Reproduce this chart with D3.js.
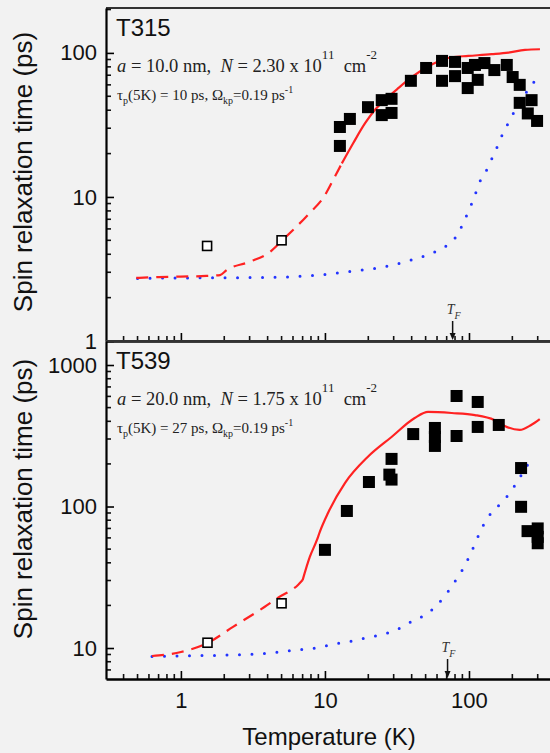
<!DOCTYPE html>
<html>
<head>
<meta charset="utf-8">
<script src="https://cdnjs.cloudflare.com/ajax/libs/d3/7.8.5/d3.min.js"></script>
<style>
  body { margin: 0; background: #f2f2f2; }
  svg { display: block; }
  text { white-space: pre; }
</style>
</head>
<body>
<div id="chart"></div>
<script>

// x axis (temperature, K)
var xMajor = [1, 10, 100]
var xMinor = [0.4, 0.5, 0.6, 0.7, 0.8, 0.9, 2, 3, 4, 5, 6, 7, 8, 9, 20, 30, 40, 50, 60, 70, 80, 90, 200, 300]

// ---- T315 ----
var t315Major = [1, 10, 100]
var t315Minor = [2, 3, 4, 5, 6, 7, 8, 9, 20, 30, 40, 50, 60, 70, 80, 90, 200]
var t315Tf = 77

var t315Measured = [
  [12.7, 30.6], [12.7, 22.6], [14.9, 34.8], [19.9, 42], [24.8, 47], [29, 48],
  [24.8, 37], [29, 38.3], [39.5, 64], [50.4, 78.6], [65, 88], [65, 64],
  [80, 86.6], [80, 69], [98, 78.6], [98, 57], [110, 82.5], [115, 65],
  [128, 85], [150, 76], [183, 82.5], [201, 68], [225, 60], [225, 45],
  [272, 47], [256, 38], [297, 33.7]
]
var t315Open = [[1.52, 4.57], [5.0, 5.0]]

var t315FitDashed = [
  [0.49, 2.74], [0.7, 2.78], [1.0, 2.8], [1.5, 2.83], [1.87, 2.87], [2.09, 3.12],
  [3.0, 3.55], [4.15, 4.15], [5.0, 4.95], [7.6, 7.5], [10, 10.3], [11.7, 13.8], [13.1, 17.1]
]
var t315FitSolid = [
  [13.1, 17.1], [15.7, 23.6], [19, 32.5], [22.2, 40.2], [26.1, 47.2], [32.3, 56.9],
  [40, 67.8], [49.5, 78.3], [61.2, 87.1], [75.8, 93.3], [98.9, 95.3], [143.5, 98],
  [187.5, 100.5], [245, 105], [311, 106]
]
var t315Dotted = [
  [0.5, 2.72], [1, 2.74], [2, 2.75], [4.5, 2.77], [9, 2.87], [16, 3.07], [25, 3.25],
  [38, 3.6], [56, 4.1], [68, 4.5], [82, 5.36], [91, 6.56], [100, 8.13], [109, 10],
  [117, 12.3], [131, 15], [144, 18.4], [158, 22.6], [173, 28], [193, 34.3], [214, 42],
  [245, 51.6], [287, 64]
]

// ---- T539 ----
var t539Major = [10, 100, 1000]
var t539Minor = [7, 8, 9, 20, 30, 40, 50, 60, 70, 80, 90, 200, 300, 400, 500, 600, 700, 800, 900]
var t539Tf = 71

var t539Measured = [
  [10, 49.4], [14.2, 93], [20.2, 149], [29, 217], [28, 168], [29, 155], [41, 325],
  [58, 359], [58, 310], [58, 268], [82, 604], [82, 315], [115, 548], [115, 365],
  [161, 377], [230, 187], [230, 99.5], [255, 67], [300, 70], [300, 61], [300, 55]
]
var t539Open = [[1.53, 10.9], [5.0, 20.7]]

var t539FitDashed = [
  [0.63, 8.78], [1, 9.37], [1.52, 10.8], [2.3, 14.1], [3.8, 19.5], [4.7, 22.6],
  [6.5, 27.9], [7.0, 30.2]
]
var t539FitSolid = [
  [7.0, 30.2], [7.85, 44], [8.8, 58], [9.2, 66], [10.5, 90], [13.8, 147], [19.8, 224],
  [29, 310], [42, 422], [52, 466], [76, 458], [110, 443], [150, 409], [184, 364],
  [225, 348], [270, 377], [310, 415]
]
var t539Dotted = [
  [0.63, 8.7], [1, 8.8], [2, 8.9], [4.5, 9.3], [5.6, 9.57], [8.4, 9.96], [12.5, 10.8],
  [15.5, 11.2], [18.7, 11.7], [22.8, 12.2], [27.4, 12.8], [33.5, 13.9], [41, 15.6],
  [50.6, 17.3], [61, 20.5], [71.5, 25], [81.8, 30.6], [93.3, 38], [102.4, 46.2],
  [112, 57], [122, 69.5], [137, 85], [165, 104.6], [195, 127], [221, 156], [250, 190],
  [278, 235]
]


var width = 550
var height = 753
var sans = 'Liberation Sans, Arial, sans-serif'
var serif = 'Liberation Serif, Times New Roman, serif'

var svg = d3.select('#chart')
  .append('svg')
  .attr('width', width)
  .attr('height', height)

svg.append('rect')
  .attr('width', width)
  .attr('height', height)
  .attr('fill', '#f2f2f2')

var x = d3.scaleLog()
  .domain([0.302, 377])
  .range([106, 552])


function draw_panel(p) {

  var y = d3.scaleLog()
    .domain(p.domain)
    .range([p.bottom, p.top])

  var g = svg.append('g')

  // top border
  g.append('line')
    .attr('x1', x.range()[0])
    .attr('x2', x.range()[1])
    .attr('y1', p.top)
    .attr('y2', p.top)
    .attr('stroke', '#333')
    .attr('stroke-width', 2)

  // minor ticks, pointing in
  g.selectAll('line.ymin')
    .data(p.minor)
    .enter()
    .append('line')
    .attr('class', 'ymin')
    .attr('x1', x.range()[0])
    .attr('x2', x.range()[0] + 5)
    .attr('y1', function (d) { return y(d) })
    .attr('y2', function (d) { return y(d) })
    .attr('stroke', '#111')
    .attr('stroke-width', 1.6)

  g.selectAll('line.xmin')
    .data(xMinor)
    .enter()
    .append('line')
    .attr('class', 'xmin')
    .attr('x1', function (d) { return x(d) })
    .attr('x2', function (d) { return x(d) })
    .attr('y1', p.bottom)
    .attr('y2', p.bottom - 5)
    .attr('stroke', '#111')
    .attr('stroke-width', 1.6)

  // major ticks
  var yAxis = g.append('g')
    .attr('transform', 'translate(' + x.range()[0] + ',0)')
    .call(d3.axisLeft(y).tickValues(p.major).tickSizeInner(-8).tickSizeOuter(0)
      .tickPadding(9).tickFormat(d3.format('d')))

  yAxis.select('.domain').attr('stroke-width', 2.2)
  yAxis.selectAll('line').attr('stroke-width', 1.6)
  yAxis.selectAll('text')
    .attr('font-family', sans)
    .attr('font-size', 22)
    .attr('fill', '#111')

  var xAxis = g.append('g')
    .attr('transform', 'translate(0,' + p.bottom + ')')
    .call(d3.axisBottom(x).tickValues(xMajor).tickSizeInner(-8).tickSizeOuter(0)
      .tickPadding(13).tickFormat(p.xLabels ? d3.format('d') : ''))

  xAxis.select('.domain').attr('stroke-width', 2.6)
  xAxis.selectAll('line').attr('stroke-width', 1.6)
  xAxis.selectAll('text')
    .attr('font-family', sans)
    .attr('font-size', 22)
    .attr('fill', '#111')

  var line = d3.line()
    .x(function (d) { return x(d[0]) })
    .y(function (d) { return y(d[1]) })
    .curve(d3.curveMonotoneX)

  g.append('path')
    .datum(p.dotted)
    .attr('d', line)
    .attr('fill', 'none')
    .attr('stroke', '#2233ff')
    .attr('stroke-width', 3)
    .attr('stroke-linecap', 'round')
    .attr('stroke-dasharray', '0,12.5')

  g.append('path')
    .datum(p.dashed)
    .attr('d', line)
    .attr('fill', 'none')
    .attr('stroke', '#ff2222')
    .attr('stroke-width', 2.2)
    .attr('stroke-dasharray', '12,8')

  g.append('path')
    .datum(p.solid)
    .attr('d', line)
    .attr('fill', 'none')
    .attr('stroke', '#ff2222')
    .attr('stroke-width', 2.2)

  g.selectAll('rect.meas')
    .data(p.measured)
    .enter()
    .append('rect')
    .attr('class', 'meas')
    .attr('x', function (d) { return x(d[0]) - 6 })
    .attr('y', function (d) { return y(d[1]) - 6 })
    .attr('width', 12)
    .attr('height', 12)
    .attr('fill', '#000')

  g.selectAll('rect.open')
    .data(p.open)
    .enter()
    .append('rect')
    .attr('class', 'open')
    .attr('x', function (d) { return x(d[0]) - 4.5 })
    .attr('y', function (d) { return y(d[1]) - 4.5 })
    .attr('width', 9)
    .attr('height', 9)
    .attr('fill', '#fff')
    .attr('stroke', '#000')
    .attr('stroke-width', 1.6)

  // T_F marker
  var xf = x(p.tf)
  g.append('line')
    .attr('x1', xf).attr('x2', xf)
    .attr('y1', p.bottom - 20).attr('y2', p.bottom - 4)
    .attr('stroke', '#111')
    .attr('stroke-width', 1.5)
  g.append('path')
    .attr('d', 'M' + (xf - 3) + ',' + (p.bottom - 8) + 'L' + (xf + 3) + ',' + (p.bottom - 8) + 'L' + xf + ',' + (p.bottom - 1) + 'Z')
    .attr('fill', '#111')

  var tf = g.append('text')
    .attr('x', xf - 6)
    .attr('y', p.bottom - 27)
    .attr('font-family', serif)
    .attr('font-style', 'italic')
    .attr('font-size', 14)
    .attr('fill', '#333')
  tf.append('tspan').text('T')
  tf.append('tspan').attr('dy', 5).attr('font-size', 10).text('F')

  // sample name
  g.append('text')
    .attr('x', 116)
    .attr('y', p.top + 28)
    .attr('font-family', sans)
    .attr('font-size', 24)
    .attr('fill', '#111')
    .text(p.name)

  var t1 = g.append('text')
    .attr('x', 117)
    .attr('y', p.top + 64)
    .attr('font-family', serif)
    .attr('font-size', 18.5)
    .attr('fill', '#222')
  t1.append('tspan').attr('font-style', 'italic').text('a')
  t1.append('tspan').text(' = ' + p.a + ' nm,  ')
  t1.append('tspan').attr('font-style', 'italic').text('N')
  t1.append('tspan').text(' = ' + p.n + ' x 10')
  t1.append('tspan').attr('dy', -13).attr('font-size', 13).text('11')
  t1.append('tspan').attr('dy', 13).text('  cm')
  t1.append('tspan').attr('dy', -13).attr('font-size', 13).text('-2')

  var t2 = g.append('text')
    .attr('x', 117)
    .attr('y', p.top + 92)
    .attr('font-family', serif)
    .attr('font-size', 15)
    .attr('fill', '#222')
  t2.append('tspan').text('τ')
  t2.append('tspan').attr('dy', 4).attr('font-size', 10).text('p')
  t2.append('tspan').attr('dy', -4).text('(5K) = ' + p.tau + ' ps, Ω')
  t2.append('tspan').attr('dy', 4).attr('font-size', 10).text('kp')
  t2.append('tspan').attr('dy', -4).text('=0.19 ps')
  t2.append('tspan').attr('dy', -7).attr('font-size', 10).text('-1')

  // y label
  svg.append('text')
    .attr('transform', 'translate(32,' + p.labelY + ') rotate(-90)')
    .attr('text-anchor', 'middle')
    .attr('font-family', sans)
    .attr('font-size', 26)
    .attr('fill', '#111')
    .text('Spin relaxation time (ps)')
}


draw_panel({
  name: 'T315', a: '10.0', n: '2.30', tau: '10',
  domain: [1, 205], top: 8, bottom: 341,
  major: t315Major, minor: t315Minor, tf: t315Tf,
  measured: t315Measured, open: t315Open,
  dashed: t315FitDashed, solid: t315FitSolid, dotted: t315Dotted,
  xLabels: false, labelY: 172
})

draw_panel({
  name: 'T539', a: '20.0', n: '1.75', tau: '27',
  domain: [6.04, 1478], top: 341, bottom: 679,
  major: t539Major, minor: t539Minor, tf: t539Tf,
  measured: t539Measured, open: t539Open,
  dashed: t539FitDashed, solid: t539FitSolid, dotted: t539Dotted,
  xLabels: true, labelY: 499
})

svg.append('text')
  .attr('x', 329)
  .attr('y', 745)
  .attr('text-anchor', 'middle')
  .attr('font-family', sans)
  .attr('font-size', 24)
  .attr('fill', '#111')
  .text('Temperature (K)')

</script>
</body>
</html>
